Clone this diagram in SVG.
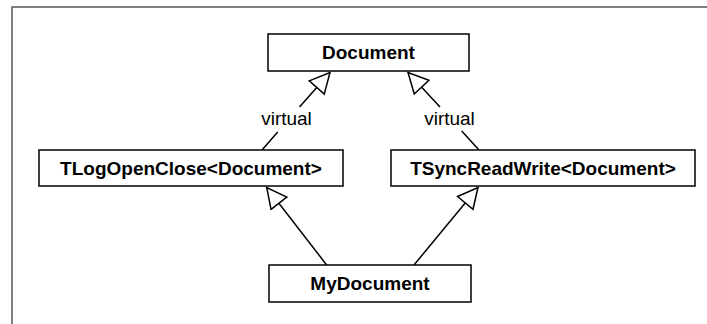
<svg xmlns="http://www.w3.org/2000/svg" width="707" height="324" viewBox="0 0 707 324">
<style>
.box{fill:#fff;stroke:#000;stroke-width:1.5}
.lbl{font-family:"Liberation Sans",Arial,sans-serif;font-size:19px;font-weight:bold;text-anchor:middle;fill:#000}
.vt{font-family:"Liberation Sans",Arial,sans-serif;font-size:19px;text-anchor:middle;fill:#000}
.edge{fill:none;stroke:#000;stroke-width:1.5;marker-end:url(#tri)}
</style>
<defs>
<marker id="tri" markerUnits="userSpaceOnUse" markerWidth="24" markerHeight="24" refX="21" refY="11" orient="auto">
<path d="M1,1 L21,11 L1,21 Z" fill="#fff" stroke="#000" stroke-width="1.5" stroke-linejoin="miter"/>
</marker>
</defs>
<rect width="707" height="324" fill="#fff"/>
<path d="M12,324 L12,7 L707,7" fill="none" stroke="#555" stroke-width="1.5"/>
<g id="connectors">
<path class="edge" d="M262,150 L277.7,132 M299.5,107 L330,72.5"/>
<path class="edge" d="M479,150 L461.7,131 M440,107 L408,72.5"/>
<path class="edge" d="M326.7,265 L266.7,187.5"/>
<path class="edge" d="M414,265 L478,187.5"/>
<text class="vt" x="286.5" y="125">virtual</text>
<text class="vt" x="449.5" y="125">virtual</text>
</g>
<g id="Document">
<rect class="box" x="268" y="34" width="201" height="37"/>
<text class="lbl" x="368.5" y="59">Document</text>
</g>
<g id="TLogOpenClose">
<rect class="box" x="39" y="150" width="304" height="36"/>
<text class="lbl" x="191" y="175">TLogOpenClose&lt;Document&gt;</text>
</g>
<g id="TSyncReadWrite">
<rect class="box" x="391" y="150" width="304" height="36"/>
<text class="lbl" x="543" y="175">TSyncReadWrite&lt;Document&gt;</text>
</g>
<g id="MyDocument">
<rect class="box" x="269" y="265" width="202" height="37"/>
<text class="lbl" x="370" y="290">MyDocument</text>
</g>
</svg>
